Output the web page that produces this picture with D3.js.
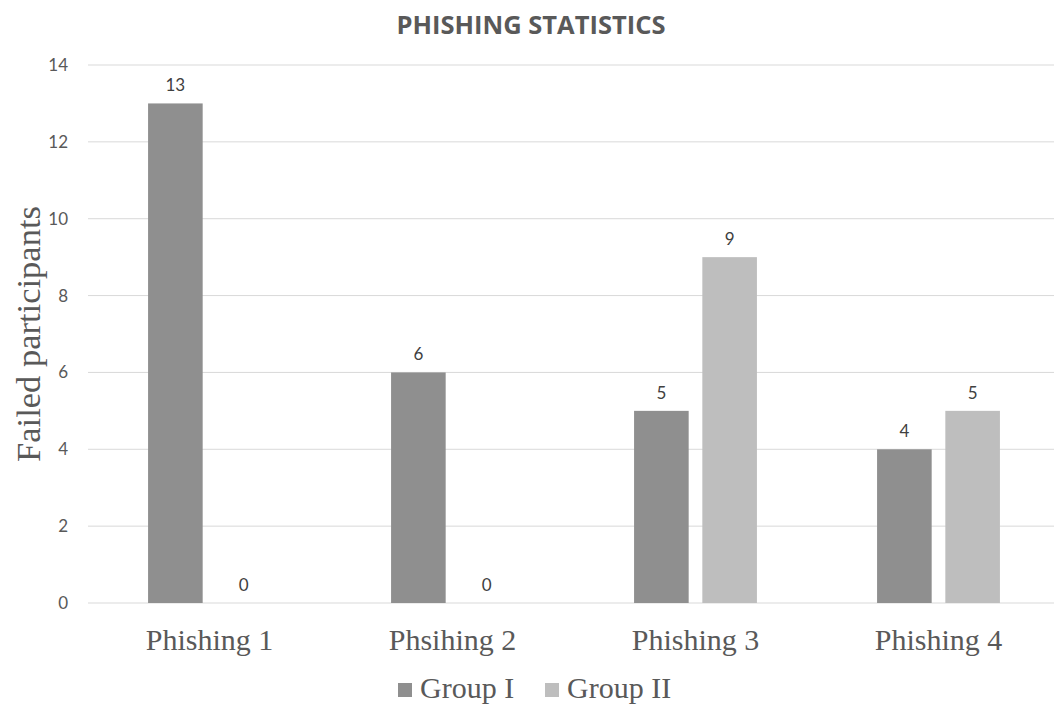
<!DOCTYPE html>
<html>
<head>
<meta charset="utf-8">
<script src="https://cdn.jsdelivr.net/npm/d3@7"></script>
<style>
  html, body { margin: 0; padding: 0; background: #fff; }
</style>
</head>
<body>
<div id="chart"></div>
<script>
const categories = ['Phishing 1', 'Phsihing 2', 'Phishing 3', 'Phishing 4'];
const groups = ['Group I', 'Group II'];
const groupI = [13, 6, 5, 4];
const groupII = [0, 0, 9, 5];
const yTicks = [0, 2, 4, 6, 8, 10, 12, 14];

const W = 1054, H = 704;
const SANS = 'Lato, "Open Sans", sans-serif';
const SERIF = '"Liberation Serif", "Times New Roman", serif';
const TXT = '#595959';
const COLORS = { 'Group I': '#8f8f8f', 'Group II': '#bebebe' };

const svg = d3.select('#chart').append('svg').attr('width', W).attr('height', H);

const x0 = d3.scaleBand().domain(categories).range([88, 1060]).padding(0);
const x1 = d3.scaleBand().domain(groups).range([0, x0.bandwidth()])
  .paddingInner(0.2).paddingOuter(0.88);
const y = d3.scaleLinear().domain([0, 14]).range([603, 65]);

// gridlines
svg.append('g').selectAll('line').data(yTicks).join('line')
  .attr('x1', 88).attr('x2', W).attr('y1', y).attr('y2', y)
  .attr('stroke', '#d9d9d9').attr('stroke-width', 1);

// y tick labels
svg.append('g').selectAll('text').data(yTicks).join('text')
  .attr('x', 68).attr('y', (d) => y(d) + 6).attr('text-anchor', 'end')
  .attr('font-family', SANS).attr('font-size', 17).attr('fill', TXT)
  .text((d) => d);

// bars
const flat = [];
categories.forEach((c, i) => {
  flat.push({ c, g: 'Group I', v: groupI[i] });
  flat.push({ c, g: 'Group II', v: groupII[i] });
});
svg.append('g').selectAll('rect').data(flat).join('rect')
  .attr('x', (d) => x0(d.c) + x1(d.g)).attr('width', x1.bandwidth())
  .attr('y', (d) => y(d.v)).attr('height', (d) => y(0) - y(d.v))
  .attr('fill', (d) => COLORS[d.g]);

// value labels
svg.append('g').selectAll('text').data(flat).join('text')
  .attr('x', (d) => x0(d.c) + x1(d.g) + x1.bandwidth() / 2)
  .attr('y', (d) => y(d.v) - 12).attr('text-anchor', 'middle')
  .attr('font-family', SANS).attr('font-size', 17).attr('fill', '#404040')
  .text((d) => d.v);

// x category labels
svg.append('g').selectAll('text').data(categories).join('text')
  .attr('x', (d) => x0(d) + x0.bandwidth() / 2).attr('y', 650)
  .attr('text-anchor', 'middle')
  .attr('font-family', SERIF).attr('font-size', 30).attr('fill', TXT)
  .text((d) => d);

// title
svg.append('text').attr('x', 531).attr('y', 34).attr('text-anchor', 'middle')
  .attr('font-family', '"Open Sans", sans-serif').attr('font-weight', 700)
  .attr('font-size', 25.5).attr('fill', TXT).text('PHISHING STATISTICS');

// y axis title
svg.append('text').attr('transform', 'translate(40,334) rotate(-90)')
  .attr('text-anchor', 'middle')
  .attr('font-family', SERIF).attr('font-size', 34.5).attr('fill', TXT)
  .text('Failed participants');

// legend
const leg = svg.append('g');
const legX = [398, 545];
groups.forEach((g, i) => {
  leg.append('rect').attr('x', legX[i]).attr('y', 683).attr('width', 14).attr('height', 14)
    .attr('fill', COLORS[g]);
  leg.append('text').attr('x', legX[i] + 22).attr('y', 698)
    .attr('font-family', SERIF).attr('font-size', 30).attr('fill', TXT).text(g);
});
</script>
</body>
</html>
